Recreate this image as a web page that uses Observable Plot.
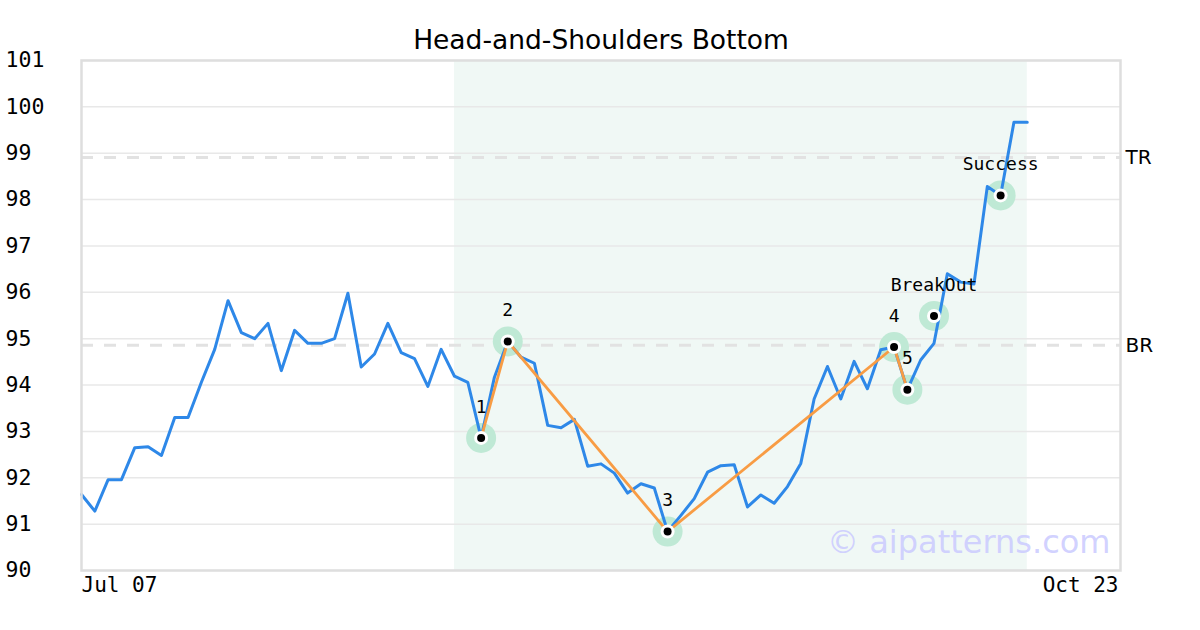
<!DOCTYPE html>
<html><head><meta charset="utf-8">
<script src="https://cdn.jsdelivr.net/npm/d3@7"></script>
<script src="https://cdn.jsdelivr.net/npm/@observablehq/plot@0.6"></script>
<style>body{margin:0;background:#fff}</style>
</head><body><div id="chart"></div>
<script>
const title = "Head-and-Shoulders Bottom";
const closes = [
  91.64, 91.28, 91.96, 91.96, 92.65, 92.67, 92.48, 93.30, 93.30, 94.06,
  94.77, 95.82, 95.13, 95.00, 95.33, 94.31, 95.18, 94.90, 94.90, 95.00,
  95.98, 94.39, 94.67, 95.33, 94.70, 94.57, 93.97, 94.77, 94.19, 94.06,
  92.86, 94.17, 94.94, 94.60, 94.47, 93.13, 93.08, 93.26, 92.25, 92.30,
  92.10, 91.67, 91.87, 91.78, 90.84, 91.19, 91.55, 92.12, 92.26, 92.28,
  91.37, 91.63, 91.45, 91.81, 92.31, 93.70, 94.40, 93.70, 94.51, 93.92,
  94.76, 94.82, 93.90, 94.54, 94.90, 96.40, 96.22, 96.18, 98.28, 98.09,
  99.67, 99.67
];
const xTickIdx = [0, 78];
const xTickLabels = ["Jul 07", "Oct 23"];
const yTicks = [90, 91, 92, 93, 94, 95, 96, 97, 98, 99, 100, 101];
const levelNames = ["TR", "BR"];
const levelValues = [98.91, 94.86];
const patternIdx = [30, 32, 44, 61, 62];
const patternLabels = ["1", "2", "3", "4", "5"];
const signalIdx = [64, 69];
const signalValues = [95.49, 98.09];
const signalLabels = ["BreakOut", "Success"];
const zoneStart = 28, zoneEnd = 71;
const watermark = "© aipatterns.com";

const series = closes.map((v, i) => ({i, v}));
const pattern = patternIdx.map((i, k) => ({i, v: closes[i], label: patternLabels[k]}));
const signals = signalIdx.map((i, k) => ({i, v: signalValues[k], label: signalLabels[k]}));
const allPoints = pattern.concat(signals);
const levels = levelNames.map((n, k) => ({name: n, v: levelValues[k]}));

const mono = "DejaVu Sans Mono";
const sans = "DejaVu Sans";

const chart = Plot.plot({
  width: 1200, height: 630,
  marginLeft: 81, marginRight: 80, marginTop: 60, marginBottom: 60,
  x: {domain: [0, 78], axis: null},
  y: {domain: [90, 101], axis: null},
  style: {background: "#fff", overflow: "visible"},
  marks: [
    Plot.rect([{x1: zoneStart, x2: zoneEnd}], {x1: "x1", x2: "x2", fill: "#f0f8f5"}),
    Plot.gridY(yTicks, {stroke: "#e8e8e8", strokeOpacity: 1, strokeWidth: 1.5}),
    Plot.ruleY(levels, {y: "v", stroke: "#e2e2e2", strokeWidth: 3, strokeDasharray: "12,11"}),
    Plot.dot(allPoints, {x: "i", y: "v", r: 15, fill: "#bfe9d5", stroke: null}),
    Plot.line(series, {x: "i", y: "v", stroke: "#2e88e8", strokeWidth: 3}),
    Plot.line(pattern, {x: "i", y: "v", stroke: "#f89c44", strokeWidth: 2.8}),
    Plot.dot(allPoints, {x: "i", y: "v", r: 7, fill: "#fff", stroke: null}),
    Plot.dot(allPoints, {x: "i", y: "v", r: 4, fill: "#000", stroke: null}),
    Plot.text(allPoints, {x: "i", y: "v", text: "label", dy: -31, fontSize: 18, fontFamily: mono, fill: "#000", lineAnchor: "middle"}),
    Plot.text(levels, {y: "v", text: "name", frameAnchor: "right", dx: 5, textAnchor: "start", fontSize: 20, fontFamily: sans, fill: "#000", lineAnchor: "middle"}),
    Plot.frame({stroke: "#dedede", strokeWidth: 2.5}),
    Plot.axisY(yTicks, {tickSize: 0, tickPadding: 0, textAnchor: "start", dx: -76, fontSize: 21.5, fontFamily: mono, fill: "#000", label: null}),
    Plot.axisX([xTickIdx[0]], {tickSize: 0, tickPadding: 7, textAnchor: "start", tickFormat: () => xTickLabels[0], fontSize: 21, fontFamily: mono, fill: "#000", label: null}),
    Plot.axisX([xTickIdx[1]], {tickSize: 0, tickPadding: 7, textAnchor: "end", dx: -2, tickFormat: () => xTickLabels[1], fontSize: 21, fontFamily: mono, fill: "#000", label: null}),
    Plot.text([title], {text: d => d, frameAnchor: "top", dy: -20, fontSize: 26.5, fontFamily: sans, fill: "#000", lineAnchor: "middle"}),
    Plot.text([watermark], {text: d => d, frameAnchor: "bottom-right", dx: -10, dy: -28, textAnchor: "end", lineAnchor: "middle", fontSize: 32, fontFamily: sans, fill: "#ccccff", fillOpacity: 0.9})
  ]
});
document.getElementById("chart").appendChild(chart);
</script>
</body></html>
